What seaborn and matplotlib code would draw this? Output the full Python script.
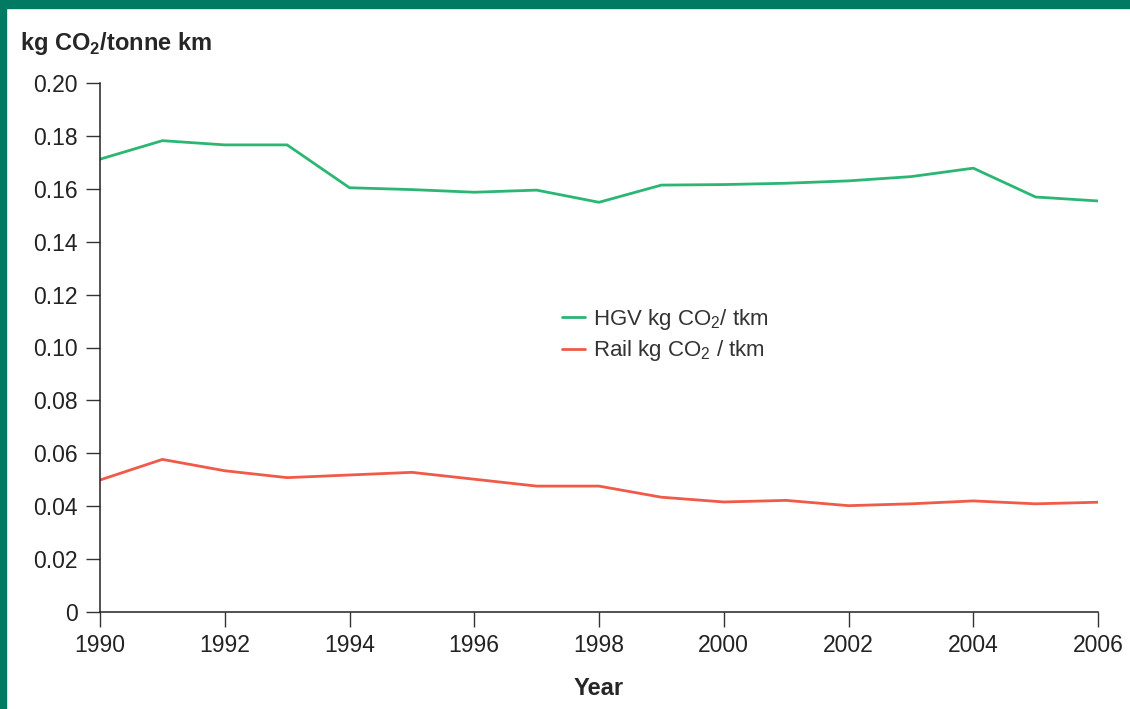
import pandas as pd
import matplotlib
matplotlib.use("Agg")
import matplotlib.pyplot as plt
import seaborn as sns
from matplotlib.patches import Rectangle
from matplotlib.ticker import FuncFormatter

# veriler (grafikten okunan yaklaşık değerler)
years = list(range(1990, 2007))
hgv = [0.1712, 0.1782, 0.1766, 0.1766, 0.1604, 0.1597, 0.1587, 0.1595, 0.1549,
       0.1614, 0.1616, 0.1621, 0.1630, 0.1646, 0.1678, 0.1569, 0.1554]
rail = [0.0499, 0.0577, 0.0534, 0.0508, 0.0518, 0.0528, 0.0502, 0.0476, 0.0476,
        0.0434, 0.0416, 0.0422, 0.0402, 0.0409, 0.0420, 0.0409, 0.0415]
series_names = ["HGV kg CO$_2$/ tkm", "Rail kg CO$_2$ / tkm"]
colors = ["#2bb673", "#f05a48"]
y_ticks = [0, 0.02, 0.04, 0.06, 0.08, 0.10, 0.12, 0.14, 0.16, 0.18, 0.20]
x_ticks = [1990, 1992, 1994, 1996, 1998, 2000, 2002, 2004, 2006]

df = pd.DataFrame({
    "Year": years * 2,
    "value": hgv + rail,
    "series": [series_names[0]] * len(years) + [series_names[1]] * len(years),
})

sns.set_style("ticks")
plt.rcParams["font.family"] = ["Liberation Sans", "DejaVu Sans"]
plt.rcParams["mathtext.fontset"] = "custom"
plt.rcParams["mathtext.rm"] = "Liberation Sans"
plt.rcParams["mathtext.bf"] = "Liberation Sans:bold"

fig = plt.figure(figsize=(11.3, 7.09), dpi=100)
W, H = 1130, 709
ax = fig.add_axes([100 / W, (H - 612) / H, 998 / W, 529 / H])

sns.lineplot(data=df, x="Year", y="value", hue="series", palette=colors,
             linewidth=2.0, ax=ax)

ax.set_xlim(1990, 2006)
ax.set_ylim(0, 0.20)
ax.set_xticks(x_ticks)
ax.set_yticks(y_ticks)
ax.yaxis.set_major_formatter(FuncFormatter(lambda v, p: "0" if v == 0 else f"{v:.2f}"))
ax.tick_params(axis="y", direction="out", length=10, width=1, pad=6,
               labelsize=16.5, colors="#333333", labelcolor="#222222")
ax.tick_params(axis="x", direction="out", length=11, width=1, pad=5,
               labelsize=16.5, colors="#333333", labelcolor="#222222")
sns.despine(ax=ax)
for s in ["left", "bottom"]:
    ax.spines[s].set_color("#222222")
    ax.spines[s].set_linewidth(1.1)

ax.set_ylabel("")
ax.set_xlabel("Year", fontsize=17, fontweight="bold", labelpad=14)

leg = ax.legend(loc="upper left", bbox_to_anchor=(0.463, 0.577), frameon=False,
                fontsize=16, handlelength=1.05, handletextpad=0.35,
                labelspacing=0.3, borderpad=0, borderaxespad=0)
for t in leg.get_texts():
    t.set_color("#333333")

fig.text(20 / W, 1 - 50 / H, r"kg CO$_\mathbf{2}$/tonne km", fontsize=17,
         fontweight="bold", ha="left", va="baseline")

# yeşil çerçeve (üst bant ve sol çizgi)
fig.patches.append(Rectangle((0, 1 - 8 / H), 1, 8 / H, transform=fig.transFigure,
                             color="#007a62", zorder=10))
fig.patches.append(Rectangle((0, 0), 6 / W, 1, transform=fig.transFigure,
                             color="#007a62", zorder=10))

fig.savefig("out.png", dpi=100)
